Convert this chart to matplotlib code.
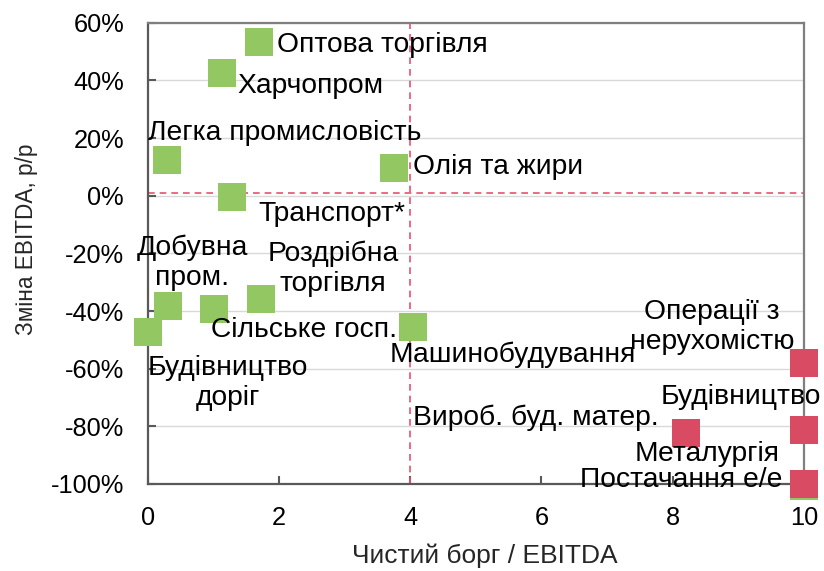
import matplotlib
matplotlib.use("Agg")
import matplotlib.pyplot as plt
from matplotlib.ticker import FuncFormatter, MultipleLocator

plt.rcParams["font.family"] = ["Liberation Sans", "DejaVu Sans"]

# Sector data: net debt / EBITDA (capped at 10) and EBITDA change, y/y (%)
sectors = [
    "Оптова торгівля", "Харчопром", "Легка промисловість", "Олія та жири",
    "Транспорт*", "Добувна\nпром.", "Роздрібна\nторгівля", "Сільське госп.",
    "Будівництво\nдоріг", "Машинобудування", "Постачання е/е",
    "Операції з\nнерухомістю", "Будівництво", "Вироб. буд. матер.", "Металургія",
]
net_debt = [1.70, 1.13, 0.30, 3.75, 1.29, 0.31, 1.73, 1.01, 0.0, 4.04, 10.0,
            10.0, 10.0, 8.21, 10.0]
ebitda_change = [53.3, 42.5, 12.3, 9.5, -0.6, -38.2, -35.9, -39.4, -47.4, -45.4,
                 -100.6, -58.1, -81.4, -82.4, -100.0]
high_risk = [False] * 11 + [True] * 4

# Threshold guides
debt_threshold = 4.0
change_threshold = 1.0

# Label anchor positions (data coords) and alignment for each sector
label_pos = [
    (1.97, 52.3, "left"), (1.36, 38.1, "left"), (0.005, 21.7, "left"),
    (4.045, 10.0, "left"), (1.68, -6.3, "left"), (0.675, -23.3, "center"),
    (2.825, -25.4, "center"), (0.965, -46.6, "left"), (1.224, -65.0, "center"),
    (3.69, -55.3, "left"), (9.665, -98.6, "right"), (8.60, -45.5, "center"),
    (10.26, -69.8, "right"), (7.78, -77.1, "right"), (9.635, -89.6, "right"),
]

GREEN = "#92c761"
RED = "#d94a63"
GUIDE = "#e8506e"
AXIS = "#595959"

fig = plt.figure(figsize=(8.24, 5.71), dpi=100)
ax = fig.add_axes([0.1792, 0.1524, 0.7965, 0.8078])

ax.set_xlim(0, 10)
ax.set_ylim(-100, 60)
ax.yaxis.set_major_locator(MultipleLocator(20))
ax.xaxis.set_major_locator(MultipleLocator(2))
ax.yaxis.set_major_formatter(FuncFormatter(lambda v, _: f"{v:.0f}%"))
ax.grid(axis="y", color="#d9d9d9", linewidth=1.0, zorder=0)
ax.set_axisbelow(True)

for side, sp in ax.spines.items():
    sp.set_color(AXIS)
    sp.set_linewidth(1.6)
ax.spines["right"].set_color("#7f7f7f")
ax.spines["top"].set_color("#7f7f7f")

ax.tick_params(axis="both", direction="in", length=6, width=1.5, color=AXIS,
               labelsize=18.3, labelcolor="#000000")
ax.tick_params(axis="x", pad=16)
ax.tick_params(axis="y", pad=17)

ax.axvline(debt_threshold, color=GUIDE, linestyle=(0, (4, 3)), linewidth=1.2, zorder=1)
ax.axhline(change_threshold, color=GUIDE, linestyle=(0, (4, 3)), linewidth=1.2, zorder=1)

for x, y, risky in zip(net_debt, ebitda_change, high_risk):
    ax.plot(x, y, marker="s", markersize=19.5, markeredgewidth=0,
            color=RED if risky else GREEN, clip_on=False,
            zorder=4 if risky else 3, linestyle="none")

for name, (lx, ly, ha) in zip(sectors, label_pos):
    ax.text(lx, ly, name, ha=ha, va="center", fontsize=20.3,
            linespacing=1.2, zorder=5)

ax.set_xlabel("Чистий борг / EBITDA", fontsize=19, color="#262626", va="center")
ax.xaxis.set_label_coords(0.514, -0.156)
ax.set_ylabel("Зміна EBITDA, р/р", fontsize=16.3, color="#262626", va="center")
ax.yaxis.set_label_coords(-0.185, 0.531)

fig.savefig("out.png", dpi=100)
